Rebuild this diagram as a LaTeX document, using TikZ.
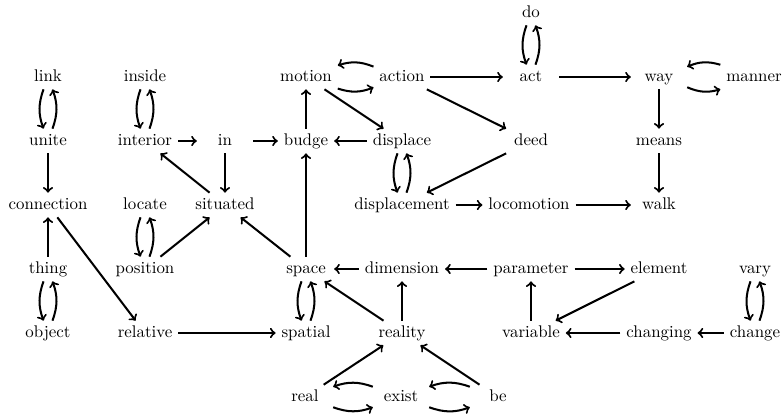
\documentclass[tikz,border=0pt]{standalone}
\begin{document}
\begin{tikzpicture}[x=0.592pt, y=-0.592pt, >=to,
  word/.style={minimum width=33pt, text height=1.5ex, text depth=.25ex, inner sep=3.33pt},
  arr/.style={->, very thick},
  pair/.style={->, very thick, bend right=20}]
\useasboundingbox (0,0) rectangle (784,415);

% words
\node[word] (do) at (531,13) {do};

\node[word] (link) at (48,77) {link};
\node[word] (inside) at (145,77) {inside};
\node[word] (motion) at (306,77) {motion};
\node[word] (action) at (402,77) {action};
\node[word] (act) at (531,77) {act};
\node[word] (way) at (659,77) {way};
\node[word] (manner) at (754,77) {manner};

\node[word] (unite) at (48,141) {unite};
\node[word] (interior) at (145,141) {interior};
\node[word] (in) at (225,141) {in};
\node[word] (budge) at (306,141) {budge};
\node[word] (displace) at (402,141) {displace};
\node[word] (deed) at (531,141) {deed};
\node[word] (means) at (659,141) {means};

\node[word] (connection) at (48,205) {connection};
\node[word] (locate) at (145,205) {locate};
\node[word] (situated) at (225,205) {situated};
\node[word] (displacement) at (402,205) {displacement};
\node[word] (locomotion) at (529,205) {locomotion};
\node[word] (walk) at (659,205) {walk};

\node[word] (thing) at (48,269) {thing};
\node[word] (position) at (145,269) {position};
\node[word] (space) at (306,269) {space};
\node[word] (dimension) at (402,269) {dimension};
\node[word] (parameter) at (531,269) {parameter};
\node[word] (element) at (659,269) {element};
\node[word] (vary) at (755,269) {vary};

\node[word] (object) at (48,333) {object};
\node[word] (relative) at (145,333) {relative};
\node[word] (spatial) at (306,333) {spatial};
\node[word] (reality) at (402,333) {reality};
\node[word] (variable) at (531,333) {variable};
\node[word] (changing) at (659,333) {changing};
\node[word] (change) at (755,333) {change};

\node[word] (real) at (305,397) {real};
\node[word] (exist) at (401,397) {exist};
\node[word] (be) at (498,397) {be};

% two-way links
\foreach \a/\b in {link/unite, inside/interior, locate/position, thing/object,
                   do/act, displace/displacement, space/spatial, vary/change,
                   action/motion, manner/way, exist/real, be/exist}
  {\draw[pair] (\a) to (\b); \draw[pair] (\b) to (\a);}

% one-way links
\foreach \a/\b in {unite/connection, thing/connection, connection/relative,
                   relative/spatial, interior/in, in/budge, in/situated,
                   situated/interior, position/situated, space/situated,
                   space/budge, budge/motion, motion/displace, displace/budge,
                   action/act, action/deed, act/way, way/means, means/walk,
                   deed/displacement, displacement/locomotion, locomotion/walk,
                   dimension/space, parameter/dimension, parameter/element,
                   element/variable, variable/parameter, changing/variable,
                   change/changing, reality/space, reality/dimension,
                   real/reality, be/reality}
  {\draw[arr] (\a) -- (\b);}
\end{tikzpicture}
\end{document}
